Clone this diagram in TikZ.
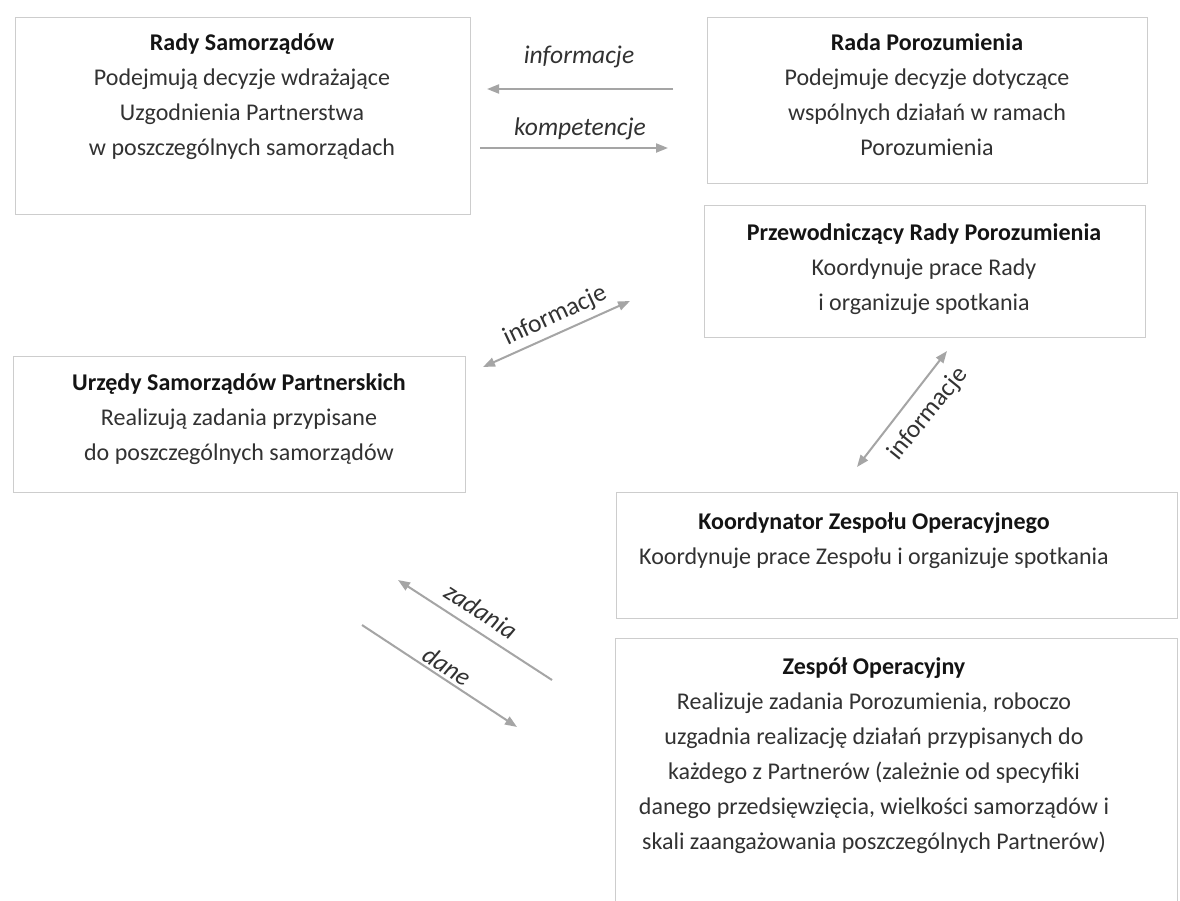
\documentclass[tikz,border=0pt]{standalone}
\usepackage{fontspec}
\setmainfont{Carlito}
\usetikzlibrary{arrows.meta}
\definecolor{boxline}{RGB}{205,205,205}
\definecolor{titletext}{RGB}{20,20,20}
\definecolor{bodytext}{RGB}{50,50,50}
\definecolor{arrowgray}{RGB}{165,165,165}
\newcommand{\firstline}{\rule{0pt}{22pt}}

\begin{document}
\begin{tikzpicture}[x=1pt,y=-1pt,
  panel/.style={draw=boxline, line width=1.4pt, fill=white, inner sep=0pt, anchor=north west},
  txt/.style={anchor=north, inner sep=0pt, align=center,
              font=\fontsize{24}{35}\selectfont, text=bodytext},
  flow/.style={draw=arrowgray, line width=2pt, -{Triangle[length=12pt,width=9pt]}},
  twoway/.style={draw=arrowgray, line width=2pt,
                 {Triangle[length=12pt,width=9pt]}-{Triangle[length=12pt,width=9pt]}},
  lbl/.style={inner sep=0pt, font=\fontsize{25.5}{28}\selectfont, text=bodytext},
  ilbl/.style={lbl, font=\fontsize{25.5}{28}\selectfont\itshape}]

\useasboundingbox[fill=white] (0,0) rectangle (1180,900);

% boxes
\node[panel, minimum width=455pt, minimum height=197pt] (rs) at (15,17) {};
\node[panel, minimum width=440pt, minimum height=166pt] (rp) at (707,17) {};
\node[panel, minimum width=441pt, minimum height=132pt] (pr) at (704,205) {};
\node[panel, minimum width=452pt, minimum height=136pt] (us) at (13,356) {};
\node[panel, minimum width=561pt, minimum height=126pt] (kz) at (616,492) {};
\node[panel, minimum width=562pt, minimum height=280pt] (zo) at (615,638) {};

% box texts
\node[txt] (rs-t) at (242,28) {\firstline{\bfseries\color{titletext}Rady Samorządów}\\
  Podejmują decyzje wdrażające\\ Uzgodnienia Partnerstwa\\ w poszczególnych samorządach};
\node[txt] (rp-t) at (927,28) {\firstline{\bfseries\color{titletext}Rada Porozumienia}\\
  Podejmuje decyzje dotyczące\\ wspólnych działań w ramach\\ Porozumienia};
\node[txt] (pr-t) at (924,218) {\firstline{\bfseries\color{titletext}Przewodniczący Rady Porozumienia}\\
  Koordynuje prace Rady\\ i organizuje spotkania};
\node[txt] (us-t) at (239,368) {\firstline{\bfseries\color{titletext}Urzędy Samorządów Partnerskich}\\
  Realizują zadania przypisane\\ do poszczególnych samorządów};
\node[txt] (kz-t) at (874,507) {\firstline{\bfseries\color{titletext}Koordynator Zespołu Operacyjnego}\\
  Koordynuje prace Zespołu i organizuje spotkania};
\node[txt] (zo-t) at (874,652) {\firstline{\bfseries\color{titletext}Zespół Operacyjny}\\
  Realizuje zadania Porozumienia, roboczo\\
  uzgadnia realizację działań przypisanych do\\
  każdego z Partnerów (zależnie od specyfiki\\
  danego przedsięwzięcia, wielkości samorządów i\\
  skali zaangażowania poszczególnych Partnerów)};

% arrow end points
\coordinate (i1s) at (673,89);   \coordinate (i1e) at (487,89);
\coordinate (k1s) at (480,148);  \coordinate (k1e) at (668,148);
\coordinate (d1a) at (483,367);  \coordinate (d1b) at (630,301);
\coordinate (d2a) at (857,467);  \coordinate (d2b) at (947,351);
\coordinate (zs)  at (552,680);  \coordinate (ze)  at (398,580);
\coordinate (ds)  at (362,625);  \coordinate (de)  at (517,727);

% connectors
\draw[flow] (i1s) -- (i1e);
\draw[flow] (k1s) -- (k1e);
\draw[twoway] (d1a) -- (d1b);
\draw[twoway] (d2a) -- (d2b);
\draw[flow] (zs) -- (ze);
\draw[flow] (ds) -- (de);

% connector labels
\node[ilbl] (l-inf) at (579,57) {informacje};
\node[ilbl] (l-komp) at (580,129) {kompetencje};
\node[lbl, rotate=25] (l-inf2) at (555,316) {informacje};
\node[lbl, rotate=51] (l-inf3) at (928,414) {informacje};
\node[ilbl, rotate=-33] (l-zad) at (481,611) {zadania};
\node[ilbl, rotate=-33] (l-dane) at (447,666) {dane};
\end{tikzpicture}
\end{document}
